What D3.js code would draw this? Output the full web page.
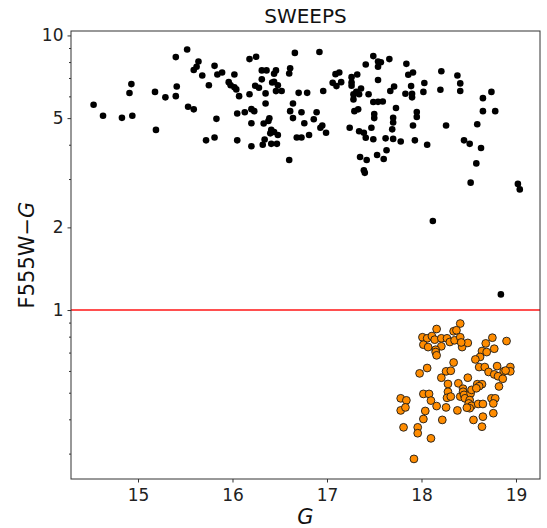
<!DOCTYPE html>
<html><head><meta charset="utf-8">
<script src="https://cdn.jsdelivr.net/npm/d3@7"></script>
<style>html,body{margin:0;padding:0;background:#fff}svg{display:block}</style>
</head><body>
<script>
const title = "SWEEPS";
const xLabel = "G";
const xTicks = [15, 16, 17, 18, 19];
const yLabelTicks = [1, 2, 5, 10];
const yMinorTicks = [0.3, 0.4, 0.5, 0.6, 0.7, 0.8, 0.9, 3, 4, 6, 7, 8, 9];
const xDomain = [14.291, 19.254];
const yDomain = [0.2425, 10.38];
const threshold = 1;

const blackG = [
15.52,15.40,15.64,15.81,15.62,15.59,15.89,15.84,16.02,15.68,
14.93,15.41,15.75,15.96,15.98,16.02,16.04,14.91,15.18,15.29,
15.40,16.07,14.53,14.63,14.83,14.94,15.53,15.59,15.83,16.05,
15.19,15.72,15.81,16.05,
16.18,16.25,16.66,16.92,16.31,16.36,16.46,16.44,16.61,16.60,
16.24,16.28,16.31,16.42,16.44,16.48,16.46,16.52,16.35,16.18,
16.70,16.79,16.96,17.09,17.13,17.06,17.10,17.15,16.35,16.64,
16.20,16.23,16.13,16.61,16.73,16.89,16.64,16.39,16.38,16.33,
16.20,16.76,16.86,16.95,16.93,16.99,16.41,16.44,16.48,16.40,
16.20,16.32,16.34,16.41,16.47,16.68,16.73,16.81,16.60,17.26,
17.32,17.26,17.26,17.36,17.31,17.28,17.28,17.34,17.44,17.41,
17.49,17.54,17.57,17.54,17.54,17.49,17.54,17.59,17.67,17.33,
17.29,17.50,17.50,17.24,17.34,17.39,17.41,17.47,17.49,17.62,
17.63,17.53,17.60,17.35,17.42,17.39,17.40,
17.66,17.84,17.86,17.91,18.21,18.38,18.41,18.41,17.71,17.89,
17.83,17.90,17.90,18.03,18.02,18.20,17.73,17.70,17.70,17.69,
17.95,17.95,17.91,18.26,17.70,17.78,17.93,18.06,18.74,18.65,
18.65,18.78,18.59,18.45,18.51,18.63,18.58,
18.52,19.02,19.04,18.12,18.84];
const blackColor = [
8.89,8.34,8.04,7.75,7.69,7.48,7.33,7.21,7.21,7.15,
6.65,6.52,6.59,6.76,6.59,6.48,6.36,6.17,6.23,5.95,
6.01,6.01,5.59,5.10,5.01,5.10,5.50,5.38,4.97,5.20,
4.53,4.15,4.25,4.15,
8.20,8.36,8.64,8.70,7.46,7.46,7.46,7.25,7.60,7.27,
6.56,6.45,6.92,6.74,6.78,6.58,6.27,6.28,6.15,6.11,
6.18,6.18,6.28,7.23,7.33,6.72,6.54,6.76,5.65,5.65,
5.39,5.30,5.25,5.30,5.25,5.25,5.00,4.99,4.88,4.78,
4.79,4.79,4.95,4.70,4.61,4.42,4.53,4.45,4.34,4.40,
3.95,4.00,4.18,4.03,4.03,4.25,4.25,4.34,3.52,7.05,
7.21,6.74,6.56,6.41,6.23,6.10,5.85,6.11,6.11,7.84,
8.41,8.04,7.99,7.69,6.88,5.72,5.73,5.75,6.28,5.38,
5.30,5.17,5.00,4.61,4.48,4.42,4.24,4.61,4.19,4.22,
3.82,3.67,3.55,3.61,3.52,3.23,3.16,
8.20,7.88,7.19,7.33,7.41,7.15,6.69,6.28,6.52,6.54,
6.13,6.13,5.95,6.71,6.23,6.34,5.44,5.01,4.82,4.55,
5.26,5.05,4.70,4.70,4.20,4.11,4.15,4.00,6.23,5.91,
5.30,5.30,4.75,4.15,4.03,3.89,3.42,
2.91,2.88,2.75,2.11,1.14];

const orangeG = [
18.41,18.16,18.34,18.37,18.01,18.06,18.11,18.14,18.21,18.27,
18.30,18.35,18.41,18.02,18.07,18.21,18.43,18.49,18.15,18.15,
18.16,18.42,18.75,18.68,18.90,18.77,18.64,18.69,18.62,18.57,
18.34,18.06,17.98,18.26,18.31,18.21,18.49,18.61,18.67,18.71,
18.77,18.80,18.87,18.94,18.94,18.81,18.86,18.89,18.28,18.39,
18.44,18.59,18.64,18.61,18.82,18.28,18.27,18.31,18.02,18.08,
18.10,18.41,18.44,18.45,18.46,18.52,18.51,18.50,18.53,18.51,
18.48,18.60,18.65,18.74,18.78,18.76,17.78,17.84,17.78,17.83,
18.16,18.26,18.38,18.04,18.53,18.58,18.02,18.22,17.81,17.96,
17.96,18.10,17.92,18.55,18.65,18.64,18.76];
const orangeColor = [
0.893,0.853,0.837,0.844,0.796,0.789,0.804,0.780,0.789,0.789,
0.765,0.776,0.796,0.748,0.733,0.738,0.733,0.759,0.717,0.703,
0.684,0.762,0.793,0.756,0.771,0.723,0.709,0.703,0.675,0.661,
0.644,0.615,0.588,0.598,0.601,0.567,0.567,0.620,0.620,0.595,
0.583,0.625,0.598,0.620,0.598,0.574,0.562,0.602,0.538,0.541,
0.517,0.537,0.537,0.528,0.527,0.504,0.479,0.484,0.495,0.495,
0.468,0.484,0.504,0.491,0.477,0.497,0.470,0.457,0.448,0.439,
0.441,0.455,0.455,0.477,0.477,0.457,0.477,0.469,0.431,0.442,
0.447,0.442,0.431,0.429,0.512,0.519,0.401,0.398,0.374,0.374,
0.356,0.341,0.287,0.398,0.409,0.376,0.421];

const W = 547, H = 528;
const L = 71, R = 540, T = 31, B = 479;
const font = "DejaVu Sans, sans-serif";

const svg = d3.select("body").append("svg").attr("width", W).attr("height", H);
const x = d3.scaleLinear().domain(xDomain).range([L, R]);
const y = d3.scaleLog().domain(yDomain).range([B, T]);

svg.append("line").attr("x1", L).attr("x2", R)
  .attr("y1", y(threshold)).attr("y2", y(threshold))
  .attr("stroke", "#ff3030").attr("stroke-opacity", 0.85).attr("stroke-width", 2);

const black = blackG.map((g, i) => ({g, c: blackColor[i]}));
const orange = orangeG.map((g, i) => ({g, c: orangeColor[i]}));

svg.append("g").selectAll("circle").data(black).join("circle")
  .attr("cx", d => x(d.g)).attr("cy", d => y(d.c)).attr("r", 3.3).attr("fill", "#000");

svg.append("g").selectAll("circle").data(orange).join("circle")
  .attr("cx", d => x(d.g)).attr("cy", d => y(d.c)).attr("r", 3.9)
  .attr("fill", "#ff8c00").attr("stroke", "#1a1a1a").attr("stroke-width", 0.9);

svg.append("rect").attr("x", L).attr("y", T).attr("width", R - L).attr("height", B - T)
  .attr("fill", "none").attr("stroke", "#333").attr("stroke-width", 1);

const xAxis = d3.axisBottom(x).tickValues(xTicks).tickSize(3.5).tickPadding(4).tickFormat(d3.format("d"));
const gx = svg.append("g").attr("transform", `translate(0,${B})`).call(xAxis);
gx.select(".domain").remove();
gx.selectAll("line").attr("stroke", "#333");
gx.selectAll("text").attr("font-family", font).attr("font-size", 17).attr("fill", "#222").attr("dy", "0.88em");

const yAxis = d3.axisLeft(y).tickValues(yLabelTicks).tickSize(3.5).tickPadding(4).tickFormat(d3.format("d"));
const gy = svg.append("g").attr("transform", `translate(${L},0)`).call(yAxis);
gy.select(".domain").remove();
gy.selectAll("line").attr("stroke", "#333");
gy.selectAll("text").attr("font-family", font).attr("font-size", 17).attr("fill", "#222");

const yMinor = d3.axisLeft(y).tickValues(yMinorTicks).tickSize(2).tickFormat("");
const gym = svg.append("g").attr("transform", `translate(${L},0)`).call(yMinor);
gym.select(".domain").remove();
gym.selectAll("line").attr("stroke", "#333");

svg.append("text").attr("x", (L + R) / 2).attr("y", 23).attr("text-anchor", "middle")
  .attr("font-family", font).attr("font-size", 20).attr("fill", "#111").text(title);

svg.append("text").attr("x", (L + R) / 2).attr("y", 524).attr("text-anchor", "middle")
  .attr("font-family", font).attr("font-size", 21).attr("font-style", "italic").attr("fill", "#111").text(xLabel);

const yl = svg.append("text").attr("transform", `translate(34,${(T + B) / 2}) rotate(-90)`)
  .attr("text-anchor", "middle").attr("font-family", font).attr("font-size", 21).attr("fill", "#111");
yl.append("tspan").text("F555W\u2212");
yl.append("tspan").attr("font-style", "italic").text("G");
</script>
</body></html>
